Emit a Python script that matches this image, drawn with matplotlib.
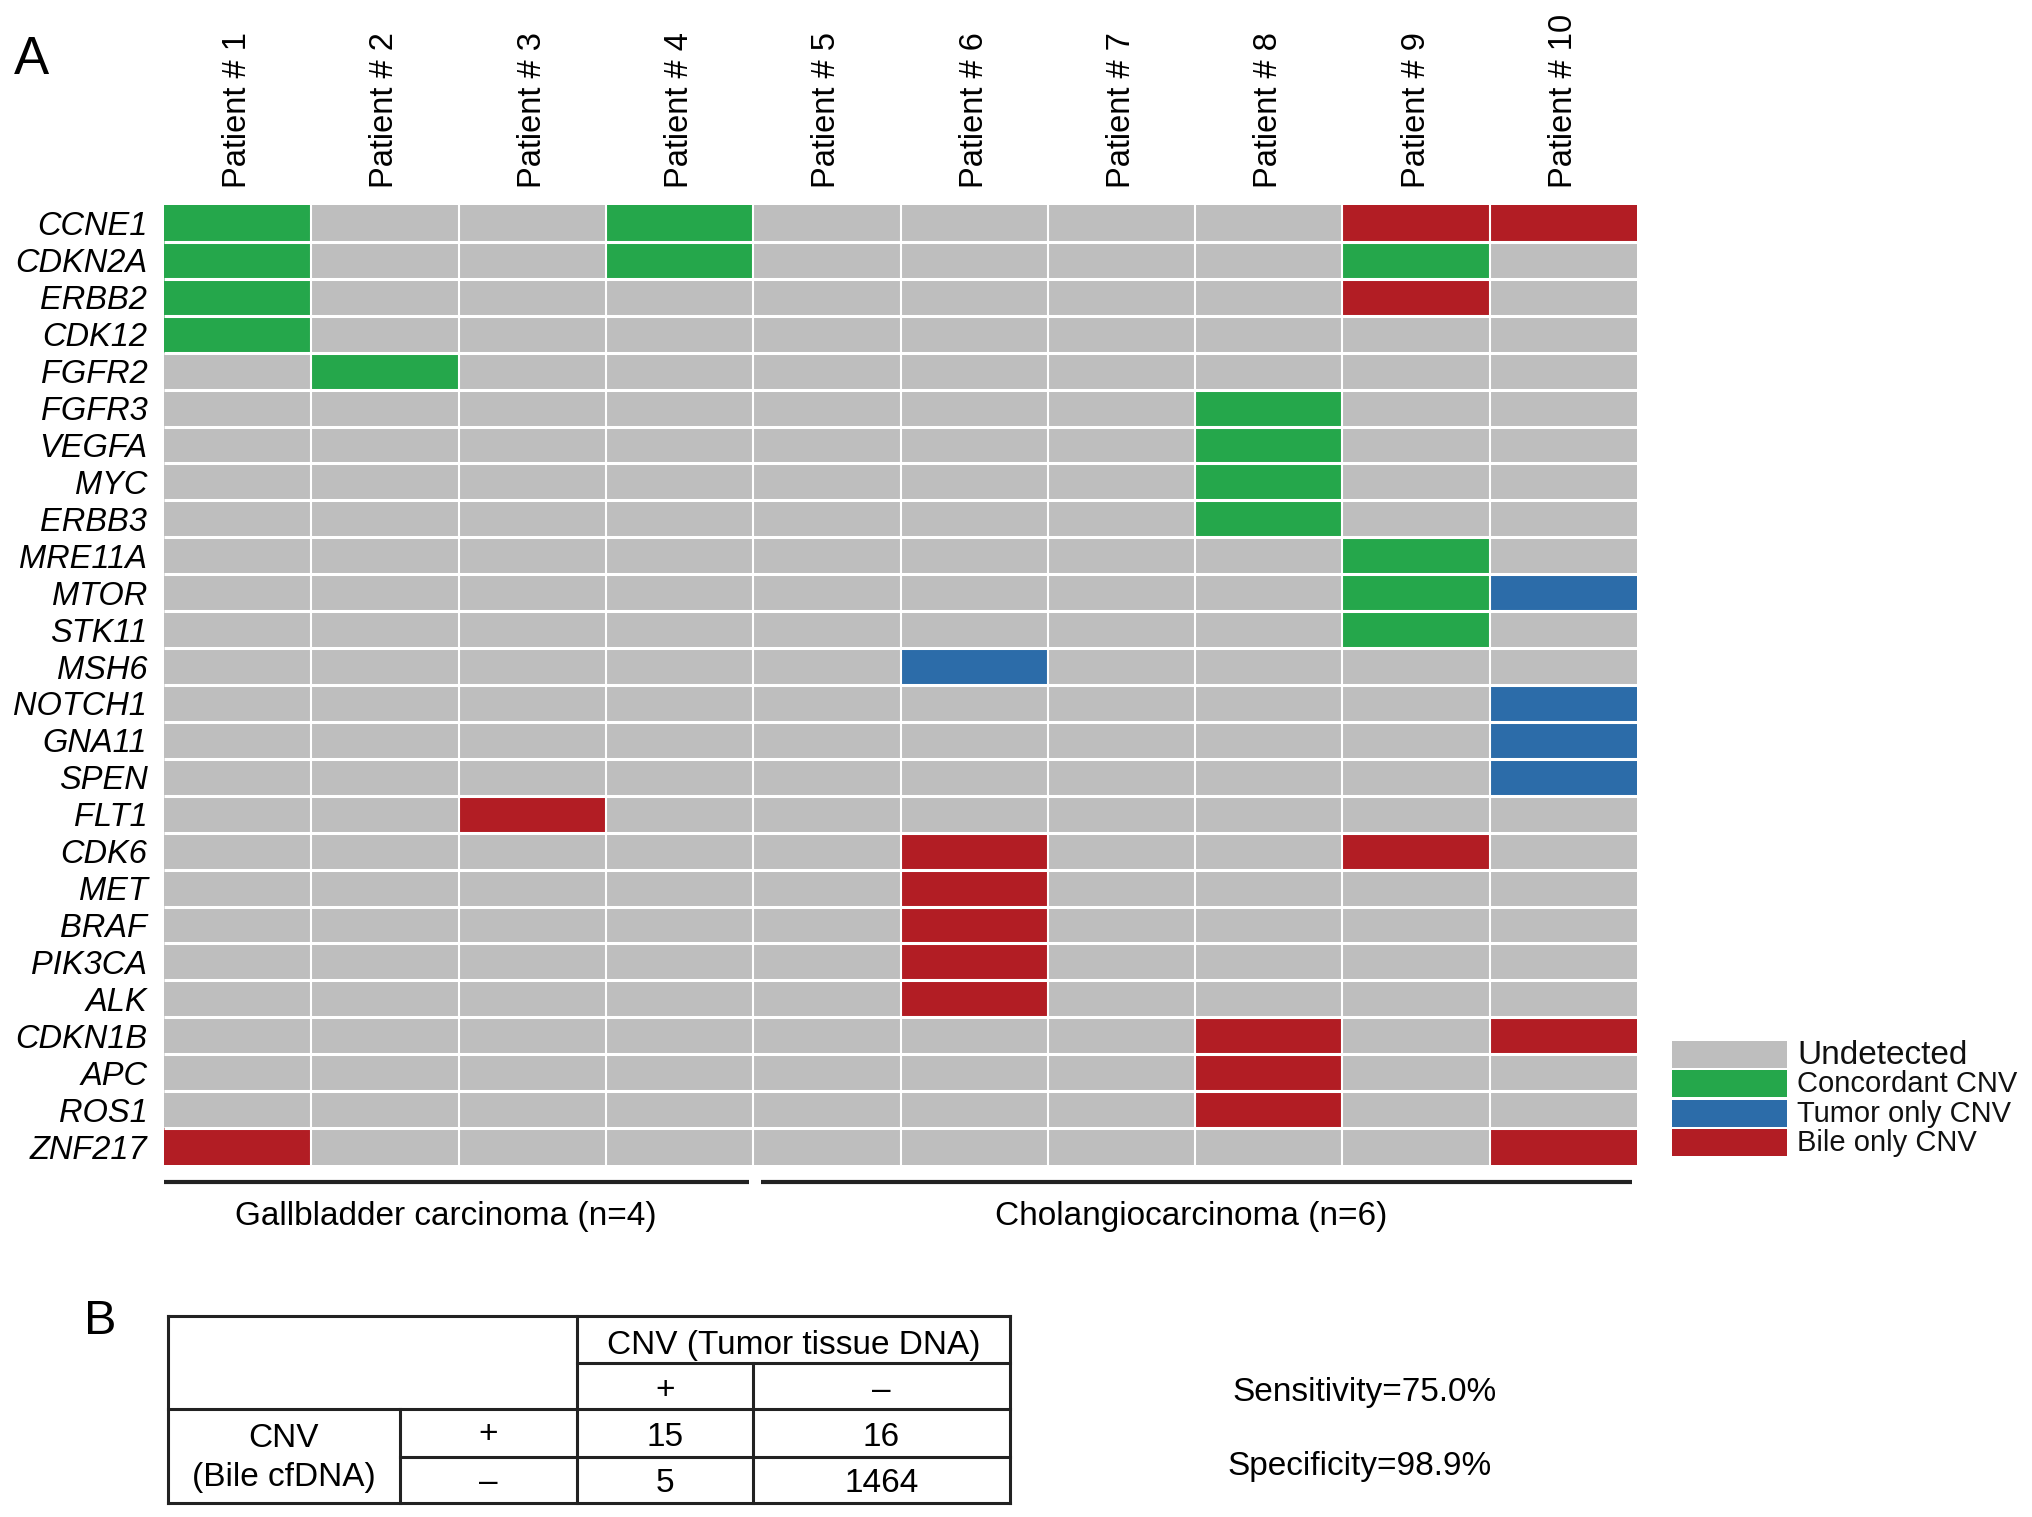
import numpy as np
import matplotlib
matplotlib.use("Agg")
import matplotlib.pyplot as plt
from matplotlib.colors import ListedColormap
from matplotlib.patches import Rectangle

plt.rcParams['font.family'] = ['Liberation Sans', 'DejaVu Sans']

# genes (rows, top to bottom) and patients (columns)
genes = ['CCNE1', 'CDKN2A', 'ERBB2', 'CDK12', 'FGFR2', 'FGFR3', 'VEGFA', 'MYC',
         'ERBB3', 'MRE11A', 'MTOR', 'STK11', 'MSH6', 'NOTCH1', 'GNA11', 'SPEN',
         'FLT1', 'CDK6', 'MET', 'BRAF', 'PIK3CA', 'ALK', 'CDKN1B', 'APC', 'ROS1',
         'ZNF217']
patients = ['Patient # %d' % i for i in range(1, 11)]

# 0 = undetected, 1 = concordant, 2 = tumor only, 3 = bile only
status = [
    [1, 0, 0, 1, 0, 0, 0, 0, 3, 3],  # CCNE1
    [1, 0, 0, 1, 0, 0, 0, 0, 1, 0],  # CDKN2A
    [1, 0, 0, 0, 0, 0, 0, 0, 3, 0],  # ERBB2
    [1, 0, 0, 0, 0, 0, 0, 0, 0, 0],  # CDK12
    [0, 1, 0, 0, 0, 0, 0, 0, 0, 0],  # FGFR2
    [0, 0, 0, 0, 0, 0, 0, 1, 0, 0],  # FGFR3
    [0, 0, 0, 0, 0, 0, 0, 1, 0, 0],  # VEGFA
    [0, 0, 0, 0, 0, 0, 0, 1, 0, 0],  # MYC
    [0, 0, 0, 0, 0, 0, 0, 1, 0, 0],  # ERBB3
    [0, 0, 0, 0, 0, 0, 0, 0, 1, 0],  # MRE11A
    [0, 0, 0, 0, 0, 0, 0, 0, 1, 2],  # MTOR
    [0, 0, 0, 0, 0, 0, 0, 0, 1, 0],  # STK11
    [0, 0, 0, 0, 0, 2, 0, 0, 0, 0],  # MSH6
    [0, 0, 0, 0, 0, 0, 0, 0, 0, 2],  # NOTCH1
    [0, 0, 0, 0, 0, 0, 0, 0, 0, 2],  # GNA11
    [0, 0, 0, 0, 0, 0, 0, 0, 0, 2],  # SPEN
    [0, 0, 3, 0, 0, 0, 0, 0, 0, 0],  # FLT1
    [0, 0, 0, 0, 0, 3, 0, 0, 3, 0],  # CDK6
    [0, 0, 0, 0, 0, 3, 0, 0, 0, 0],  # MET
    [0, 0, 0, 0, 0, 3, 0, 0, 0, 0],  # BRAF
    [0, 0, 0, 0, 0, 3, 0, 0, 0, 0],  # PIK3CA
    [0, 0, 0, 0, 0, 3, 0, 0, 0, 0],  # ALK
    [0, 0, 0, 0, 0, 0, 0, 3, 0, 3],  # CDKN1B
    [0, 0, 0, 0, 0, 0, 0, 3, 0, 0],  # APC
    [0, 0, 0, 0, 0, 0, 0, 3, 0, 0],  # ROS1
    [3, 0, 0, 0, 0, 0, 0, 0, 0, 3],  # ZNF217
]

categories = ['Undetected', 'Concordant CNV', 'Tumor only CNV', 'Bile only CNV']
colors = ['#bebebe', '#25a74b', '#2c6ca9', '#b21d24']

groups = ['Gallbladder carcinoma (n=4)', 'Cholangiocarcinoma (n=6)']

# panel B: 2x2 table
table_values = [[15, 16], [5, 1464]]
sensitivity = 75.0
specificity = 98.9

W, H = 2032, 1517
fig = plt.figure(figsize=(W / 100, H / 100), dpi=100)

# ---- panel A heatmap ----
hx0, hx1, hy0, hy1 = 164, 1637, 205, 1165
ax = fig.add_axes([hx0 / W, 1 - hy1 / H, (hx1 - hx0) / W, (hy1 - hy0) / H])
mat = np.array(status)
ax.imshow(mat, cmap=ListedColormap(colors), vmin=-0.5, vmax=3.5,
          aspect='auto', interpolation='nearest')
nr, nc = mat.shape
ax.hlines(np.arange(0.5, nr - 0.5), -0.5, nc - 0.5, color='white', lw=2.2)
ax.vlines(np.arange(0.5, nc - 0.5), -0.5, nr - 0.5, color='white', lw=1.5)
ax.set_xlim(-0.5, nc - 0.5)
ax.set_ylim(nr - 0.5, -0.5)
ax.set_yticks(range(nr))
ax.set_yticklabels(genes, fontsize=23.5, style='italic')
ax.set_xticks(range(nc))
ax.set_xticklabels(patients, fontsize=23.5, rotation=90)
ax.xaxis.tick_top()
ax.tick_params(length=0, pad=12)
for s in ax.spines.values():
    s.set_visible(False)

# ---- overlay in pixel coords ----
ov = fig.add_axes([0, 0, 1, 1])
ov.set_xlim(0, W)
ov.set_ylim(H, 0)
ov.axis('off')

ov.text(14, 60, 'A', fontsize=38, va='center', ha='left')
ov.text(84, 1322, 'B', fontsize=35, va='center', ha='left')

# group brackets
brackets = [(164, 749), (761, 1632)]
label_x = [446, 1191]
for (a, b), lx, g in zip(brackets, label_x, groups):
    ov.plot([a, b], [1182, 1182], color='#222222', lw=3, solid_capstyle='butt')
    ov.text(lx, 1217, g, fontsize=24, ha='center', va='center')

# legend
ly = 1041
for i, (c, lab) in enumerate(zip(colors, categories)):
    y = ly + i * 29.3
    ov.add_patch(Rectangle((1672, y), 115, 27, color=c, lw=0))
    ov.text(1797, y + 14, lab, fontsize=24 if i == 0 else 21,
            ha='left', va='center', color='#111111')

# ---- panel B table ----
xe = [168, 400, 577, 753, 1010]
ye = [1316, 1363, 1409, 1457, 1503]
lk = dict(color='#222222', lw=2.2, solid_capstyle='projecting')
ov.plot([xe[0], xe[4]], [ye[0], ye[0]], **lk)
ov.plot([xe[2], xe[4]], [ye[1], ye[1]], **lk)
ov.plot([xe[0], xe[4]], [ye[2], ye[2]], **lk)
ov.plot([xe[1], xe[4]], [ye[3], ye[3]], **lk)
ov.plot([xe[0], xe[4]], [ye[4], ye[4]], **lk)
ov.plot([xe[0], xe[0]], [ye[0], ye[4]], **lk)
ov.plot([xe[4], xe[4]], [ye[0], ye[4]], **lk)
ov.plot([xe[2], xe[2]], [ye[0], ye[4]], **lk)
ov.plot([xe[1], xe[1]], [ye[2], ye[4]], **lk)
ov.plot([xe[3], xe[3]], [ye[1], ye[4]], **lk)

fs = 24
ov.text((xe[2] + xe[4]) / 2, (ye[0] + ye[1]) / 2 + 6, 'CNV (Tumor tissue DNA)',
        fontsize=fs, ha='center', va='center')
ov.text((xe[2] + xe[3]) / 2, (ye[1] + ye[2]) / 2 + 5, '+', fontsize=fs, ha='center', va='center')
ov.text((xe[3] + xe[4]) / 2, (ye[1] + ye[2]) / 2 + 5, '\u2013', fontsize=fs, ha='center', va='center')
ov.text((xe[0] + xe[1]) / 2, (ye[2] + ye[4]) / 2 + 2, 'CNV\n(Bile cfDNA)', fontsize=fs,
        ha='center', va='center', linespacing=1.3)
ov.text((xe[1] + xe[2]) / 2, (ye[2] + ye[3]) / 2 + 2, '+', fontsize=fs, ha='center', va='center')
ov.text((xe[1] + xe[2]) / 2, (ye[3] + ye[4]) / 2 + 2, '\u2013', fontsize=fs, ha='center', va='center')
for r in range(2):
    for c in range(2):
        ov.text((xe[2 + c] + xe[3 + c]) / 2, (ye[2 + r] + ye[3 + r]) / 2 + 4,
                str(table_values[r][c]), fontsize=fs, ha='center', va='center')

ov.text(1232, 1392, 'Sensitivity=%.1f%%' % sensitivity, fontsize=24, ha='left', va='center')
ov.text(1227, 1466, 'Specificity=%.1f%%' % specificity, fontsize=24, ha='left', va='center')

fig.savefig('out.png', dpi=100)
